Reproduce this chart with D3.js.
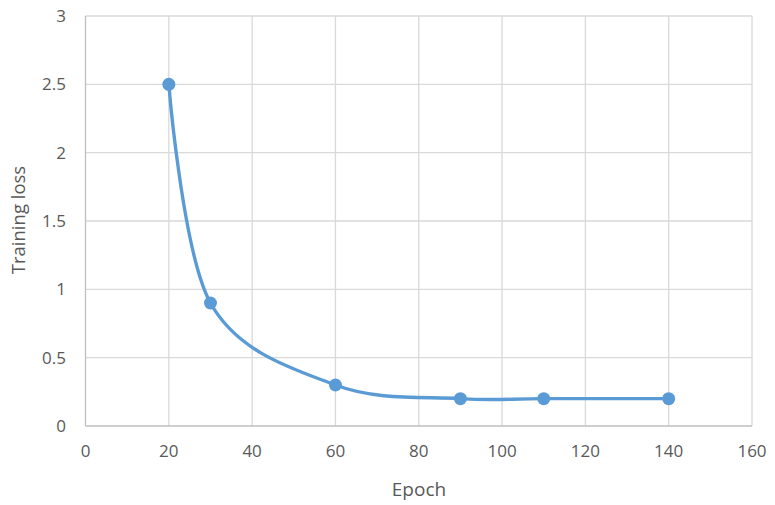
<!DOCTYPE html>
<html><head><meta charset="utf-8">
<script src="https://cdn.jsdelivr.net/npm/d3@7"></script>
<style>body{margin:0;background:#fff}svg{display:block}text{font-family:"Open Sans","Noto Sans",sans-serif;fill:#595959}</style>
</head><body><svg id="c" width="775" height="505"></svg>
<script>
const epochs = [20, 30, 60, 90, 110, 140];
const losses = [2.5, 0.9, 0.3, 0.2, 0.2, 0.2];
const xTicks = [0, 20, 40, 60, 80, 100, 120, 140, 160];
const yTicks = [0, 0.5, 1, 1.5, 2, 2.5, 3];

const svg = d3.select("#c");
const x = d3.scaleLinear().domain([0,160]).range([85.5,752]);
const y = d3.scaleLinear().domain([0,3]).range([426,16]);

const g = svg.append("g");
g.selectAll(".hg").data(yTicks.slice(1)).enter().append("line")
  .attr("x1",x(0)).attr("x2",x(160)).attr("y1",d=>y(d)).attr("y2",d=>y(d))
  .attr("stroke","#d9d9d9").attr("stroke-width",1.3);
g.selectAll(".vg").data(xTicks.slice(1)).enter().append("line")
  .attr("y1",y(0)).attr("y2",y(3)).attr("x1",d=>x(d)).attr("x2",d=>x(d))
  .attr("stroke","#d9d9d9").attr("stroke-width",1.3);
g.append("line").attr("x1",x(0)).attr("x2",x(0)).attr("y1",y(0)).attr("y2",y(3)).attr("stroke","#bfbfbf").attr("stroke-width",1.3);
g.append("line").attr("x1",x(0)).attr("x2",x(160)).attr("y1",y(0)).attr("y2",y(0)).attr("stroke","#bfbfbf").attr("stroke-width",1.3);

g.selectAll(".yl").data(yTicks).enter().append("text")
  .attr("x",66).attr("y",d=>y(d)).attr("dy","0.36em").attr("text-anchor","end")
  .attr("font-size",17).text(d=>d);
g.selectAll(".xl").data(xTicks).enter().append("text")
  .attr("x",d=>x(d)).attr("y",457).attr("text-anchor","middle")
  .attr("font-size",17).text(d=>d);

svg.append("text").attr("x",419).attr("y",496).attr("text-anchor","middle").attr("font-size",19).text("Epoch");
svg.append("text").attr("transform","translate(25,220) rotate(-90)").attr("text-anchor","middle").attr("font-size",18.5).text("Training loss");

const data = epochs.map((e,i)=>({e, l:losses[i]}));
const line = d3.line().x(d=>x(d.e)).y(d=>y(d.l)).curve(d3.curveCardinal.tension(0));
svg.append("path").datum(data).attr("d",line).attr("fill","none").attr("stroke","#5b9bd5").attr("stroke-width",3.4).attr("stroke-linejoin","round");
svg.selectAll(".pt").data(data).enter().append("circle")
  .attr("cx",d=>x(d.e)).attr("cy",d=>y(d.l)).attr("r",6.5).attr("fill","#5b9bd5");
</script></body></html>
